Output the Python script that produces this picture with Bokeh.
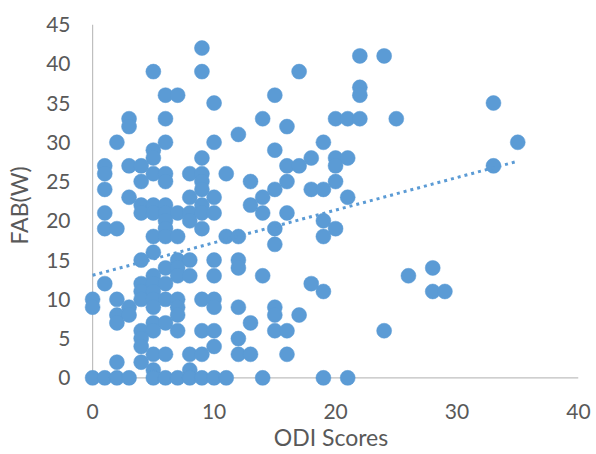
import numpy as np
from bokeh.plotting import figure
from bokeh.models import Range1d, FixedTicker
from bokeh.embed import file_html
from bokeh.resources import INLINE

# ODI Scores (x) and FAB(W) (y)
odi = [9,
       22, 24,
       5, 9, 17,
       22,
       6, 7, 15, 22,
       10, 33,
       3, 6, 14, 20, 21, 22, 25,
       3, 16,
       12,
       2, 6, 10, 19, 35,
       5, 15,
       5, 9, 18, 20, 21,
       1, 3, 4, 16, 17, 20, 33,
       1, 5, 6, 8, 9, 11,
       4, 6, 9, 13, 16, 20,
       1, 9, 15, 18, 19,
       3, 8, 10, 14, 21,
       4, 5, 6, 9, 13,
       1, 4, 5, 6, 7, 8, 9, 10, 14, 16,
       6, 8, 19,
       1, 2, 6, 9, 15, 20,
       5, 6, 7, 11, 12, 19,
       15,
       5,
       4, 7, 8, 10, 12,
       6, 7, 12, 28,
       5, 7, 8, 10, 14, 26,
       1, 4, 5, 6, 18,
       4, 5, 19, 28, 29,
       0, 2, 4, 5, 6, 7, 9, 10,
       0, 3, 5, 7, 10, 12, 15,
       2, 3, 7, 15, 17,
       2, 5, 6, 13,
       4, 5, 7, 9, 10, 15, 16, 24,
       4, 12,
       4, 10,
       5, 6, 8, 9, 12, 13, 16,
       2, 4,
       5, 8,
       0, 1, 2, 3, 5, 6, 7, 8, 9, 10, 11, 14, 19, 21]

fab = [42,
       41, 41,
       39, 39, 39,
       37,
       36, 36, 36, 36,
       35, 35,
       33, 33, 33, 33, 33, 33, 33,
       32, 32,
       31,
       30, 30, 30, 30, 30,
       29, 29,
       28, 28, 28, 28, 28,
       27, 27, 27, 27, 27, 27, 27,
       26, 26, 26, 26, 26, 26,
       25, 25, 25, 25, 25, 25,
       24, 24, 24, 24, 24,
       23, 23, 23, 23, 23,
       22, 22, 22, 22, 22,
       21, 21, 21, 21, 21, 21, 21, 21, 21, 21,
       20, 20, 20,
       19, 19, 19, 19, 19, 19,
       18, 18, 18, 18, 18, 18,
       17,
       16,
       15, 15, 15, 15, 15,
       14, 14, 14, 14,
       13, 13, 13, 13, 13, 13,
       12, 12, 12, 12, 12,
       11, 11, 11, 11, 11,
       10, 10, 10, 10, 10, 10, 10, 10,
       9, 9, 9, 9, 9, 9, 9,
       8, 8, 8, 8, 8,
       7, 7, 7, 7,
       6, 6, 6, 6, 6, 6, 6, 6,
       5, 5,
       4, 4,
       3, 3, 3, 3, 3, 3, 3,
       2, 2,
       1, 1,
       0, 0, 0, 0, 0, 0, 0, 0, 0, 0, 0, 0, 0, 0]

x_ticks = [0, 10, 20, 30, 40]
y_ticks = [0, 5, 10, 15, 20, 25, 30, 35, 40, 45]
x_title = "ODI Scores"
y_title = "FAB(W)"

assert len(odi) == len(fab)

BLUE = "#5B9BD5"
GRAY_TXT = "#595959"
AXIS_GRAY = "#BFBFBF"
FONT = "Lato"

p = figure(width=596, height=454, output_backend="svg", toolbar_location=None,
           x_range=Range1d(-0.75, 40.0), y_range=Range1d(-1.1, 45.0),
           min_border_left=83, min_border_right=18, min_border_top=24,
           min_border_bottom=68)
p.outline_line_color = None
p.grid.visible = False

for ax, ticks in ((p.xaxis, x_ticks), (p.yaxis, y_ticks)):
    ax.ticker = FixedTicker(ticks=ticks)
    ax.axis_line_color = None
    ax.major_tick_line_color = None
    ax.minor_tick_line_color = None
    ax.major_tick_in = 0
    ax.major_tick_out = 0
    ax.minor_tick_in = 0
    ax.minor_tick_out = 0
    ax.major_label_text_font = FONT
    ax.major_label_text_font_size = "21px"
    ax.major_label_text_color = GRAY_TXT
    ax.axis_label_text_font = FONT
    ax.axis_label_text_font_size = "23px"
    ax.axis_label_text_font_style = "normal"
    ax.axis_label_text_color = GRAY_TXT

p.xaxis.axis_label = x_title
p.yaxis.axis_label = y_title
p.xaxis.major_label_standoff = 17
p.yaxis.major_label_standoff = 13
p.xaxis.axis_label_standoff = 1
p.yaxis.axis_label_standoff = 10

# axis lines at x=0 and y=0, spanning the tick range
p.segment(x0=[x_ticks[0], x_ticks[0]], y0=[y_ticks[0], y_ticks[0]],
          x1=[x_ticks[-1], x_ticks[0]], y1=[y_ticks[0], y_ticks[-1]],
          line_color=AXIS_GRAY, line_width=1.2, level="underlay")

# linear trendline computed from the data
xa = np.array(odi, dtype=float)
ya = np.array(fab, dtype=float)
slope, intercept = np.polyfit(xa, ya, 1)
tx = np.array([xa.min(), xa.max()])
ty = intercept + slope * tx

p.scatter(odi, fab, size=15, fill_color=BLUE, line_color=BLUE, line_width=0.5)
p.line(tx, ty, line_color=BLUE, line_width=3, line_dash="3 4")

open("out.html", "w").write(file_html(p, INLINE))
